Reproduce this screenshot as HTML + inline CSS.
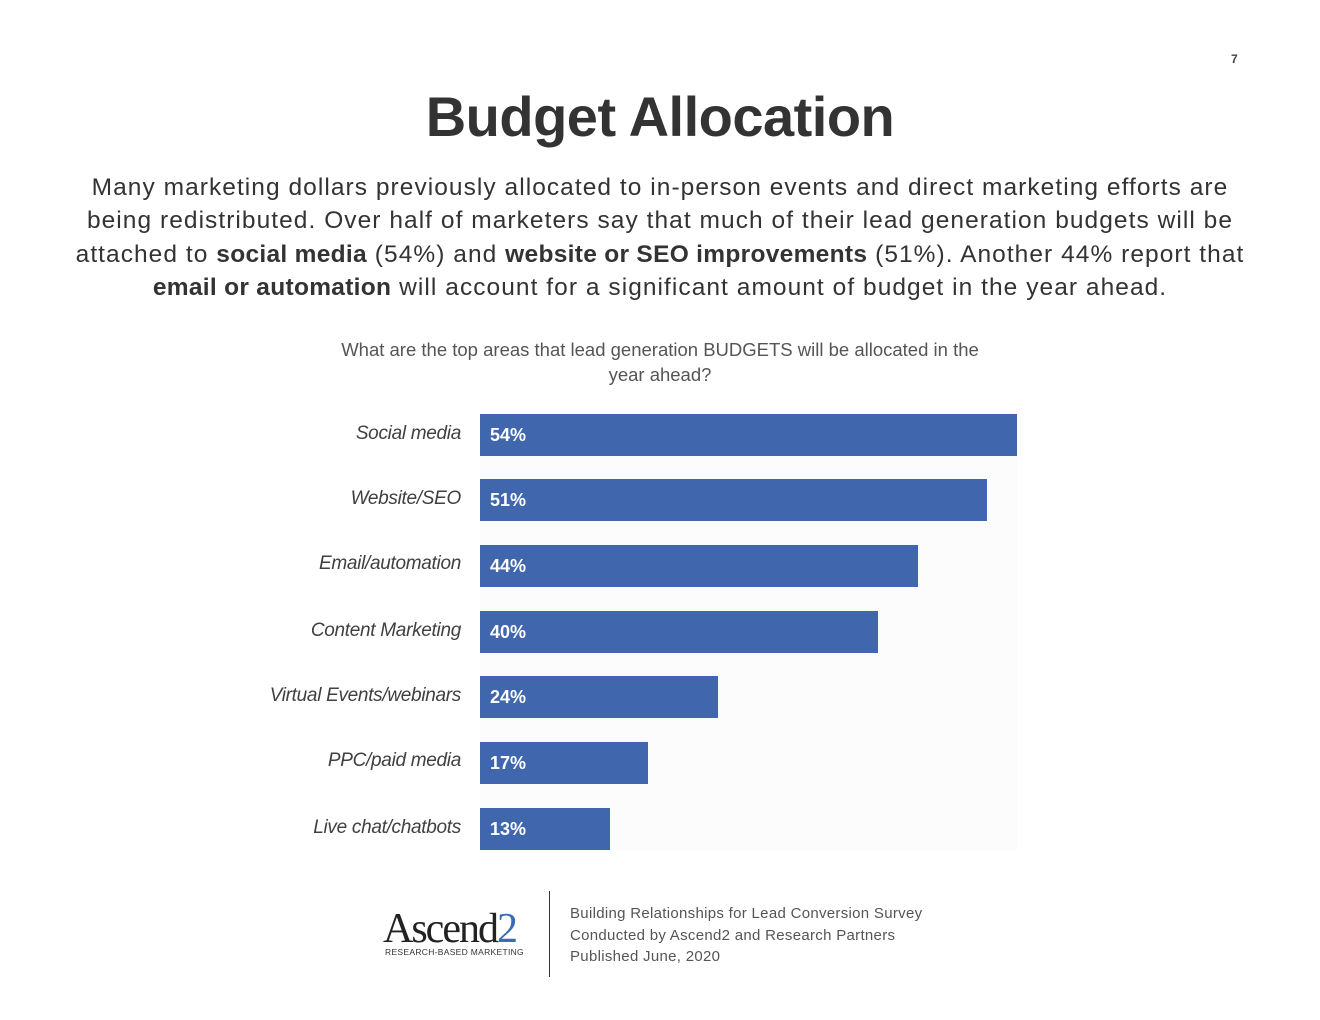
<!DOCTYPE html>
<html><head><meta charset="utf-8"><style>
body{margin:0;width:1320px;height:1020px;background:#fff;position:relative;font-family:"Liberation Sans",sans-serif;overflow:hidden}
.a{position:absolute}
.bar{position:absolute;left:480px;height:42px;background:#4066ae;color:#fff;font-weight:bold;font-size:18px;line-height:42px;padding-left:10px;box-sizing:border-box}
.lab{position:absolute;right:859px;font-style:italic;font-size:19px;color:#404040;line-height:42px;white-space:nowrap;letter-spacing:-0.3px}
.p b{letter-spacing:0.3px}
</style></head><body>
<div class="a" style="left:1231px;top:52px;font-size:12px;font-weight:bold;color:#444">7</div>
<div class="a" style="left:0;width:1320px;top:84px;text-align:center;font-size:56px;font-weight:bold;color:#333;letter-spacing:-0.5px">Budget Allocation</div>
<div class="a p" style="left:0;width:1320px;top:171px;text-align:center;font-size:24.5px;line-height:33.3px;color:#333;white-space:nowrap;letter-spacing:1.05px">Many marketing dollars previously allocated to in-person events and direct marketing efforts are<br>being redistributed. Over half of marketers say that much of their lead generation budgets will be<br>attached to <b>social media</b> (54%) and <b>website or SEO improvements</b> (51%). Another 44% report that<br><b>email or automation</b> will account for a significant amount of budget in the year ahead.</div>
<div class="a" style="left:330px;width:660px;top:337px;text-align:center;font-size:18.5px;line-height:25px;color:#555">What are the top areas that lead generation BUDGETS will be allocated in the year ahead?</div>
<div class="a" style="left:480px;top:414px;width:537px;height:436px;background:#fcfcfc"></div>
<div class="lab" style="top:413px">Social media</div><div class="bar" style="top:414px;width:537px">54%</div>
<div class="lab" style="top:478px">Website/SEO</div><div class="bar" style="top:479px;width:507px">51%</div>
<div class="lab" style="top:543px">Email/automation</div><div class="bar" style="top:545px;width:438px">44%</div>
<div class="lab" style="top:610px">Content Marketing</div><div class="bar" style="top:611px;width:398px">40%</div>
<div class="lab" style="top:675px">Virtual Events/webinars</div><div class="bar" style="top:676px;width:238px">24%</div>
<div class="lab" style="top:740px">PPC/paid media</div><div class="bar" style="top:742px;width:168px">17%</div>
<div class="lab" style="top:807px">Live chat/chatbots</div><div class="bar" style="top:808px;width:130px">13%</div>
<div class="a" style="left:383px;top:905px;font-family:'Liberation Serif',serif;font-size:42px;color:#222;letter-spacing:-2px;line-height:48px">Ascend<span style="color:#3a6bb5">2</span></div>
<div class="a" style="left:385px;top:947px;font-size:8.5px;color:#333;letter-spacing:0.3px">RESEARCH-BASED MARKETING</div>
<div class="a" style="left:549px;top:891px;width:1px;height:86px;background:#333"></div>
<div class="a" style="left:570px;top:903px;font-size:15px;line-height:21.5px;color:#555;letter-spacing:0.3px">Building Relationships for Lead Conversion Survey<br>Conducted by Ascend2 and Research Partners<br>Published June, 2020</div>
</body></html>
